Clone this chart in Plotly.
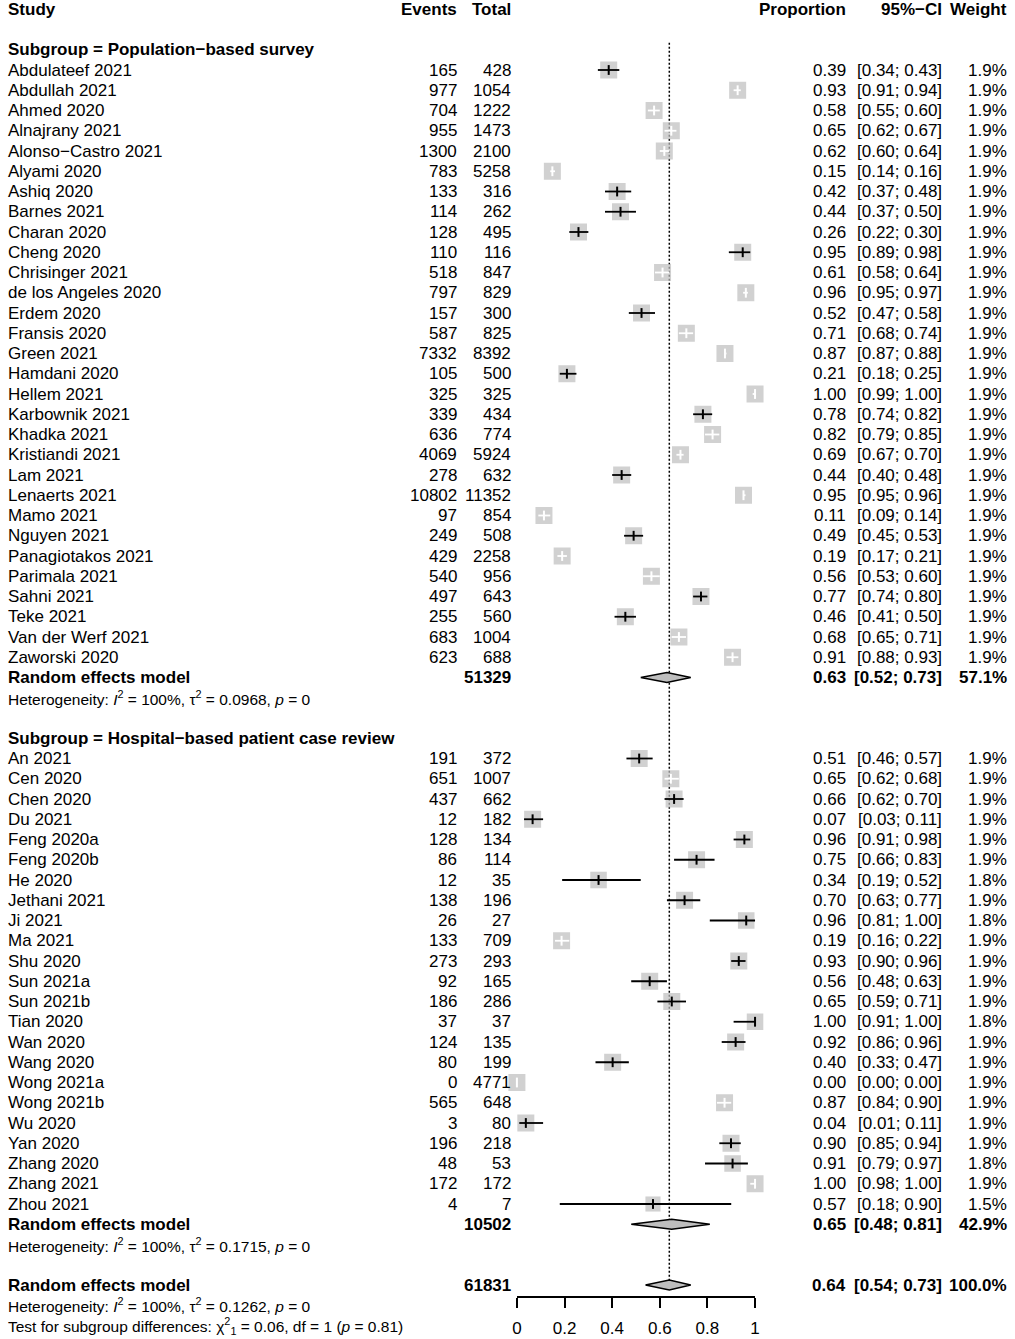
import plotly.graph_objects as go

# ---------------- DATA ----------------
g1_study = ["Abdulateef 2021", "Abdullah 2021", "Ahmed 2020", "Alnajrany 2021", "Alonso−Castro 2021",
            "Alyami 2020", "Ashiq 2020", "Barnes 2021", "Charan 2020", "Cheng 2020", "Chrisinger 2021",
            "de los Angeles 2020", "Erdem 2020", "Fransis 2020", "Green 2021", "Hamdani 2020", "Hellem 2021",
            "Karbownik 2021", "Khadka 2021", "Kristiandi 2021", "Lam 2021", "Lenaerts 2021", "Mamo 2021",
            "Nguyen 2021", "Panagiotakos 2021", "Parimala 2021", "Sahni 2021", "Teke 2021",
            "Van der Werf 2021", "Zaworski 2020"]
g1_events = [165, 977, 704, 955, 1300, 783, 133, 114, 128, 110, 518, 797, 157, 587, 7332, 105, 325,
             339, 636, 4069, 278, 10802, 97, 249, 429, 540, 497, 255, 683, 623]
g1_total = [428, 1054, 1222, 1473, 2100, 5258, 316, 262, 495, 116, 847, 829, 300, 825, 8392, 500, 325,
            434, 774, 5924, 632, 11352, 854, 508, 2258, 956, 643, 560, 1004, 688]
g1_prop = [0.39, 0.93, 0.58, 0.65, 0.62, 0.15, 0.42, 0.44, 0.26, 0.95, 0.61, 0.96, 0.52, 0.71, 0.87, 0.21,
           1.00, 0.78, 0.82, 0.69, 0.44, 0.95, 0.11, 0.49, 0.19, 0.56, 0.77, 0.46, 0.68, 0.91]
g1_lo = [0.34, 0.91, 0.55, 0.62, 0.60, 0.14, 0.37, 0.37, 0.22, 0.89, 0.58, 0.95, 0.47, 0.68, 0.87, 0.18,
         0.99, 0.74, 0.79, 0.67, 0.40, 0.95, 0.09, 0.45, 0.17, 0.53, 0.74, 0.41, 0.65, 0.88]
g1_hi = [0.43, 0.94, 0.60, 0.67, 0.64, 0.16, 0.48, 0.50, 0.30, 0.98, 0.64, 0.97, 0.58, 0.74, 0.88, 0.25,
         1.00, 0.82, 0.85, 0.70, 0.48, 0.96, 0.14, 0.53, 0.21, 0.60, 0.80, 0.50, 0.71, 0.93]
g1_weight = [1.9] * 30

g2_study = ["An 2021", "Cen 2020", "Chen 2020", "Du 2021", "Feng 2020a", "Feng 2020b", "He 2020",
            "Jethani 2021", "Ji 2021", "Ma 2021", "Shu 2020", "Sun 2021a", "Sun 2021b", "Tian 2020",
            "Wan 2020", "Wang 2020", "Wong 2021a", "Wong 2021b", "Wu 2020", "Yan 2020", "Zhang 2020",
            "Zhang 2021", "Zhou 2021"]
g2_events = [191, 651, 437, 12, 128, 86, 12, 138, 26, 133, 273, 92, 186, 37, 124, 80, 0, 565, 3, 196, 48, 172, 4]
g2_total = [372, 1007, 662, 182, 134, 114, 35, 196, 27, 709, 293, 165, 286, 37, 135, 199, 4771, 648, 80,
            218, 53, 172, 7]
g2_prop = [0.51, 0.65, 0.66, 0.07, 0.96, 0.75, 0.34, 0.70, 0.96, 0.19, 0.93, 0.56, 0.65, 1.00, 0.92, 0.40,
           0.00, 0.87, 0.04, 0.90, 0.91, 1.00, 0.57]
g2_lo = [0.46, 0.62, 0.62, 0.03, 0.91, 0.66, 0.19, 0.63, 0.81, 0.16, 0.90, 0.48, 0.59, 0.91, 0.86, 0.33,
         0.00, 0.84, 0.01, 0.85, 0.79, 0.98, 0.18]
g2_hi = [0.57, 0.68, 0.70, 0.11, 0.98, 0.83, 0.52, 0.77, 1.00, 0.22, 0.96, 0.63, 0.71, 1.00, 0.96, 0.47,
         0.00, 0.90, 0.11, 0.94, 0.97, 1.00, 0.90]
g2_weight = [1.9, 1.9, 1.9, 1.9, 1.9, 1.9, 1.8, 1.9, 1.8, 1.9, 1.9, 1.9, 1.9, 1.8, 1.9, 1.9, 1.9, 1.9,
             1.9, 1.9, 1.8, 1.9, 1.5]

# pooled (random effects) results: [group1, group2, overall]
re_total = [51329, 10502, 61831]
re_prop = [0.63, 0.65, 0.64]
re_lo = [0.52, 0.48, 0.54]
re_hi = [0.73, 0.81, 0.73]
re_weight = [57.1, 42.9, 100.0]
het_i2 = [100, 100, 100]
het_tau2 = ["0.0968", "0.1715", "0.1262"]
het_p = ["0", "0", "0"]
subgroup_names = ["Population−based survey", "Hospital−based patient case review"]
test_chi2, test_df, test_p = "0.06", 1, "0.81"

axis_ticks = [0, 0.2, 0.4, 0.6, 0.8, 1]
axis_ticktext = ["0", "0.2", "0.4", "0.6", "0.8", "1"]

# studies whose CI fits inside their box (line drawn in white)
ci_inside_box = {"Abdullah 2021", "Ahmed 2020", "Alnajrany 2021", "Alonso−Castro 2021", "Alyami 2020",
                 "Chrisinger 2021", "de los Angeles 2020", "Fransis 2020", "Green 2021", "Hellem 2021",
                 "Khadka 2021", "Kristiandi 2021", "Lenaerts 2021", "Mamo 2021", "Panagiotakos 2021",
                 "Parimala 2021", "Van der Werf 2021", "Zaworski 2020", "Cen 2020", "Ma 2021",
                 "Wong 2021a", "Wong 2021b", "Zhang 2021"}

# ---------------- LAYOUT GEOMETRY ----------------
W, H = 1015, 1339
PX0, PX1 = 517.0, 757.5          # pixel of x=0 and x=1
ROW0_PX, ROW_H = 70.0, 20.25      # pixel of row 0 and row pitch
XMIN = -PX0 / (PX1 - PX0)
XMAX = (W - PX0) / (PX1 - PX0)
RTOP = -ROW0_PX / ROW_H
RBOT = (H - ROW0_PX) / ROW_H
FONT = "Liberation Sans, Arial, Helvetica, sans-serif"
FS = 17
FS_SMALL = 15.5
BOX_GRAY = "#BEBEBE"

# row assignment
n1, n2 = len(g1_study), len(g2_study)
row_header = -3
row_sub1 = -1
rows1 = list(range(0, n1))
row_re1 = n1
row_het1 = n1 + 1
row_sub2 = n1 + 3
rows2 = list(range(n1 + 4, n1 + 4 + n2))
row_re2 = rows2[-1] + 1
row_het2 = row_re2 + 1
row_re = row_het2 + 2
row_het = row_re + 1
row_test = row_re + 2

studies = g1_study + g2_study
events = g1_events + g2_events
totals = g1_total + g2_total
props = g1_prop + g2_prop
los = g1_lo + g2_lo
his = g1_hi + g2_hi
weights = g1_weight + g2_weight
rows = rows1 + rows2
est = [e / t for e, t in zip(events, totals)]

fig = go.Figure()

# reference (dotted) line at overall estimate
fig.add_trace(go.Scatter(x=[re_prop[2], re_prop[2]], y=[row_sub1 - 0.35, row_re - 0.25], mode="lines",
                         line=dict(color="black", width=1.5, dash="2px,2px"), hoverinfo="skip"))

# boxes
box_sizes = [17.0 * (w / 1.9) ** 0.5 for w in weights]
fig.add_trace(go.Scatter(x=est, y=rows, mode="markers",
                         marker=dict(symbol="square", size=box_sizes, color=BOX_GRAY, line=dict(width=0)),
                         hoverinfo="skip", cliponaxis=False))

# CI lines
for colr, inside in (("black", False), ("white", True)):
    xs, ys, tx, ty = [], [], [], []
    for s, lo, hi, r, e in zip(studies, los, his, rows, est):
        if (s in ci_inside_box) != inside:
            continue
        xs += [lo, hi, None]
        ys += [r, r, None]
        tx.append(e)
        ty.append(r)
    fig.add_trace(go.Scatter(x=xs, y=ys, mode="lines", line=dict(color=colr, width=1.8),
                             hoverinfo="skip", cliponaxis=False))
    fig.add_trace(go.Scatter(x=tx, y=ty, mode="markers",
                             marker=dict(symbol="line-ns", size=7, line=dict(color=colr, width=2)),
                             hoverinfo="skip", cliponaxis=False))

# diamonds
dh = 5.0 / ROW_H
for lo, hi, p, r in zip(re_lo, re_hi, re_prop, [row_re1, row_re2, row_re]):
    fig.add_trace(go.Scatter(x=[lo, p, hi, p, lo], y=[r, r - dh, r, r + dh, r], mode="lines",
                             fill="toself", fillcolor=BOX_GRAY, line=dict(color="black", width=1.5),
                             hoverinfo="skip"))

# invisible trace on tick axis
fig.add_trace(go.Scatter(x=[0, 1], y=[row_re, row_re], xaxis="x2", yaxis="y", mode="markers",
                         marker=dict(opacity=0), hoverinfo="skip"))

# ---------------- TEXT ----------------
annotations = []


def txt(text, px, row, anchor="left", size=FS):
    annotations.append(dict(text=text, x=px / W, xref="paper", y=row, yref="y", xanchor=anchor,
                            yanchor="middle", showarrow=False, borderpad=0, borderwidth=0,
                            font=dict(family=FONT, size=size, color="black")))


X_STUDY, X_EV, X_TOT, X_PROP, X_CI, X_W = 3, 456, 511, 849, 946, 1012

# header
txt("<b>Study</b>", X_STUDY, row_header)
txt("<b>Events</b>", X_EV, row_header, "right")
txt("<b>Total</b>", X_TOT, row_header, "right")
txt("<b>Proportion</b>", X_PROP, row_header, "right")
txt("<b>95%−CI</b>", X_CI, row_header, "right")
txt("<b>Weight</b>", X_W, row_header, "right")

txt("<b>Subgroup = %s</b>" % subgroup_names[0], X_STUDY, row_sub1)
txt("<b>Subgroup = %s</b>" % subgroup_names[1], X_STUDY, row_sub2)

for s, e, t, p, lo, hi, w, r in zip(studies, events, totals, props, los, his, weights, rows):
    txt(s, X_STUDY, r)
    txt(str(e), X_EV, r, "right")
    txt(str(t), X_TOT, r, "right")
    txt("%.2f" % p, X_PROP, r, "right")
    txt("[%.2f; %.2f]" % (lo, hi), X_CI, r, "right")
    txt("%.1f%%" % w, X_W, r, "right")

for i, (r, rh) in enumerate(zip([row_re1, row_re2, row_re], [row_het1, row_het2, row_het])):
    txt("<b>Random effects model</b>", X_STUDY, r)
    txt("<b>%d</b>" % re_total[i], X_TOT, r, "right")
    txt("<b>%.2f</b>" % re_prop[i], X_PROP, r, "right")
    txt("<b>[%.2f; %.2f]</b>" % (re_lo[i], re_hi[i]), X_CI, r, "right")
    txt("<b>%.1f%%</b>" % re_weight[i], X_W, r, "right")
    txt("Heterogeneity: <i>I</i><sup>2</sup> = %d%%, τ<sup>2</sup> = %s, <i>p</i> = %s"
        % (het_i2[i], het_tau2[i], het_p[i]), X_STUDY, rh, size=FS_SMALL)

txt("Test for subgroup differences: χ<sup>2</sup><sub>%d</sub> = %s, df = %d (<i>p</i> = %s)"
    % (test_df, test_chi2, test_df, test_p), X_STUDY, row_test, size=FS_SMALL)

AXIS_PX = 1297
fig.update_layout(
    width=W, height=H, margin=dict(l=0, r=0, t=0, b=0),
    paper_bgcolor="white", plot_bgcolor="rgba(0,0,0,0)", showlegend=False,
    font=dict(family=FONT, size=FS, color="black"),
    xaxis=dict(range=[XMIN, XMAX], visible=False, domain=[0, 1], fixedrange=True),
    yaxis=dict(range=[RBOT, RTOP], visible=False, domain=[0, 1], fixedrange=True),
    xaxis2=dict(range=[0, 1], domain=[PX0 / W, PX1 / W], anchor="free", position=1 - AXIS_PX / H,
                showline=True, linecolor="black", linewidth=1.5, ticks="outside", ticklen=10,
                tickwidth=1.5, tickcolor="black", tickvals=axis_ticks, ticktext=axis_ticktext,
                ticklabelstandoff=6,
                tickfont=dict(family=FONT, size=FS, color="black"), showgrid=False, zeroline=False,
                fixedrange=True),
    annotations=annotations,
)

fig.write_html("out.html", config={"displayModeBar": False},
               post_script="document.body.style.margin='0';")
